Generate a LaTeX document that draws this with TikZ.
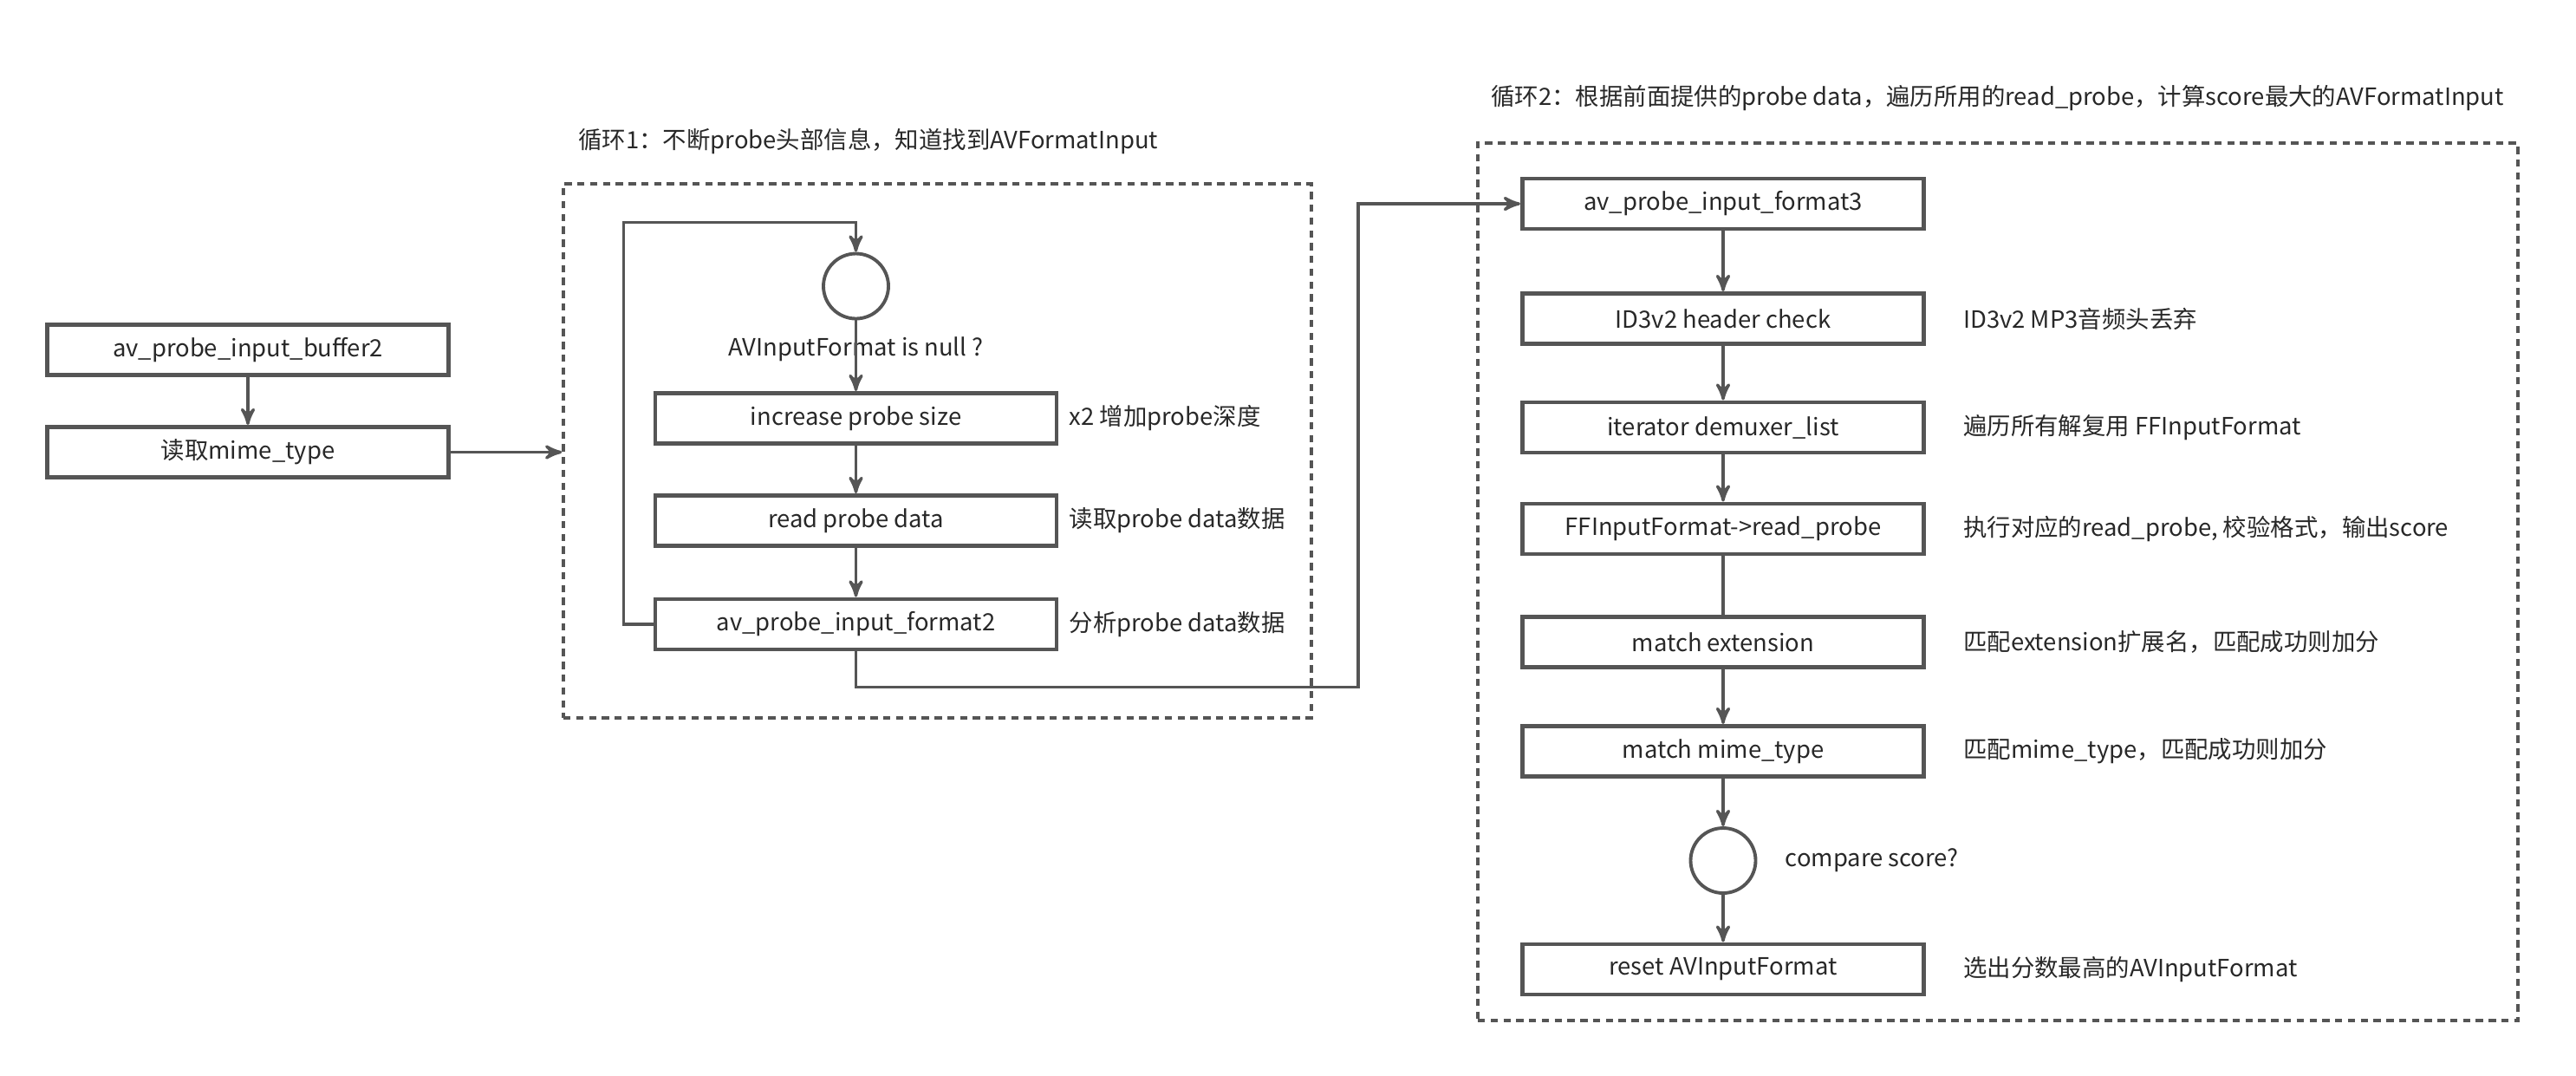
\documentclass[tikz,border=0pt]{standalone}
\usepackage{fontspec}
\setmainfont{Noto Sans CJK SC}
\usepackage{tikz}
\usetikzlibrary{calc,positioning,arrows}
\definecolor{linegray}{RGB}{85,85,85}
\definecolor{textgray}{RGB}{40,40,40}

\begin{document}
\begin{tikzpicture}[node distance=1cm,auto,>=stealth',
  font=\fontsize{7.8pt}{9pt}\selectfont, text=textgray,
  box/.style={draw=linegray, line width=1.4pt, minimum width=4.63cm, minimum height=0.58cm, inner sep=0pt},
  cond/.style={draw=linegray, line width=1.1pt, circle, minimum size=0.75cm, inner sep=0pt},
  frame/.style={draw=linegray, line width=1pt, dash pattern=on 2.4pt off 1.8pt},
  note/.style={inner sep=1pt},
  link/.style={draw=linegray, line width=0.95pt}]
  \useasboundingbox (0,0) rectangle (29.72,-12.40);

  \node[box] (buf2) at (2.86,-4.035) {av\_probe\_input\_buffer2};
  \node[box, below of=buf2, node distance=1.18cm] (mime) {读取mime\_type};

  %%%%

  \node[frame, minimum width=8.63cm, minimum height=6.16cm] (loop1) at (10.815,-5.20) {};
  \node[anchor=west] (loop1_t) at (6.55,-1.63) {循环1：不断probe头部信息，知道找到AVFormatInput};

  \node[cond] (cmp1) at (9.875,-3.30) {};
  \node[below of=cmp1, node distance=0.73cm] (cmp1_t) {AVInputFormat is null ?};
  \node[box, below of=cmp1, node distance=1.525cm] (inc_size) {increase probe size};
  \node[note, right=0.08cm of inc_size] (inc_size_t) {x2 增加probe深度};
  \node[box, below of=inc_size, node distance=1.18cm] (read_data) {read probe data};
  \node[note, right=0.08cm of read_data] (read_data_t) {读取probe data数据};
  \node[box, below of=read_data, node distance=1.195cm] (fmt2) {av\_probe\_input\_format2};
  \node[note, right=0.08cm of fmt2] (fmt2_t) {分析probe data数据};

  %%%%

  \node[frame, minimum width=12.00cm, minimum height=10.12cm] (loop2) at (23.05,-6.71) {};
  \node[anchor=west] (loop2_t) at (17.08,-1.13) {循环2：根据前面提供的probe data，遍历所用的read\_probe，计算score最大的AVFormatInput};

  \node[box] (fmt3) at (19.88,-2.35) {av\_probe\_input\_format3};
  \node[box, below of=fmt3, node distance=1.325cm] (id3_chk) {ID3v2 header check};
  \node[note, right=0.39cm of id3_chk] (id3_chk_t) {ID3v2 MP3音频头丢弃};
  \node[box, below of=id3_chk, node distance=1.255cm] (iter_demux) {iterator demuxer\_list};
  \node[note, right=0.39cm of iter_demux] (iter_demux_t) {遍历所有解复用 FFInputFormat};
  \node[box, below of=iter_demux, node distance=1.17cm] (read_probe) {FFInputFormat->read\_probe};
  \node[note, right=0.39cm of read_probe] (read_probe_t) {执行对应的read\_probe, 校验格式，输出score};
  \node[box, below of=read_probe, node distance=1.305cm] (match_ext) {match extension};
  \node[note, right=0.39cm of match_ext] (match_ext_t) {匹配extension扩展名，匹配成功则加分};
  \node[box, below of=match_ext, node distance=1.26cm] (match_mime) {match mime\_type};
  \node[note, right=0.39cm of match_mime] (match_mime_t) {匹配mime\_type，匹配成功则加分};
  \node[cond, below of=match_mime, node distance=1.26cm] (cmp2) {};
  \node[note, right=0.28cm of cmp2] (cmp2_t) {compare score?};
  \node[box, below of=cmp2, node distance=1.255cm] (reset_fmt) {reset AVInputFormat};
  \node[note, right=0.39cm of reset_fmt] (reset_fmt_t) {选出分数最高的AVInputFormat};

  %%%%

  \draw[link,->] (buf2) -- (mime);
  \draw[link,->] (mime) -- (mime -| loop1.west);

  \draw[link,->] (cmp1) -- (inc_size);
  \draw[link,->] (inc_size) -- (read_data);
  \draw[link,->] (read_data) -- (fmt2);
  \draw[link,->] (fmt2.west) -- ++(-0.34,0) |- ($(cmp1.north)+(0,0.34)$) -- (cmp1.north);
  \draw[link,->] (fmt2.south) -- ++(0,-0.41) -| ($(fmt3.west)+(-1.87,0)$) -- (fmt3.west);

  \draw[link,->] (fmt3) -- (id3_chk);
  \draw[link,->] (id3_chk) -- (iter_demux);
  \draw[link,->] (iter_demux) -- (read_probe);
  \draw[link] (read_probe) -- (match_ext);
  \draw[link,->] (match_ext) -- (match_mime);
  \draw[link,->] (match_mime) -- (cmp2);
  \draw[link,->] (cmp2) -- (reset_fmt);

\end{tikzpicture}
\end{document}
